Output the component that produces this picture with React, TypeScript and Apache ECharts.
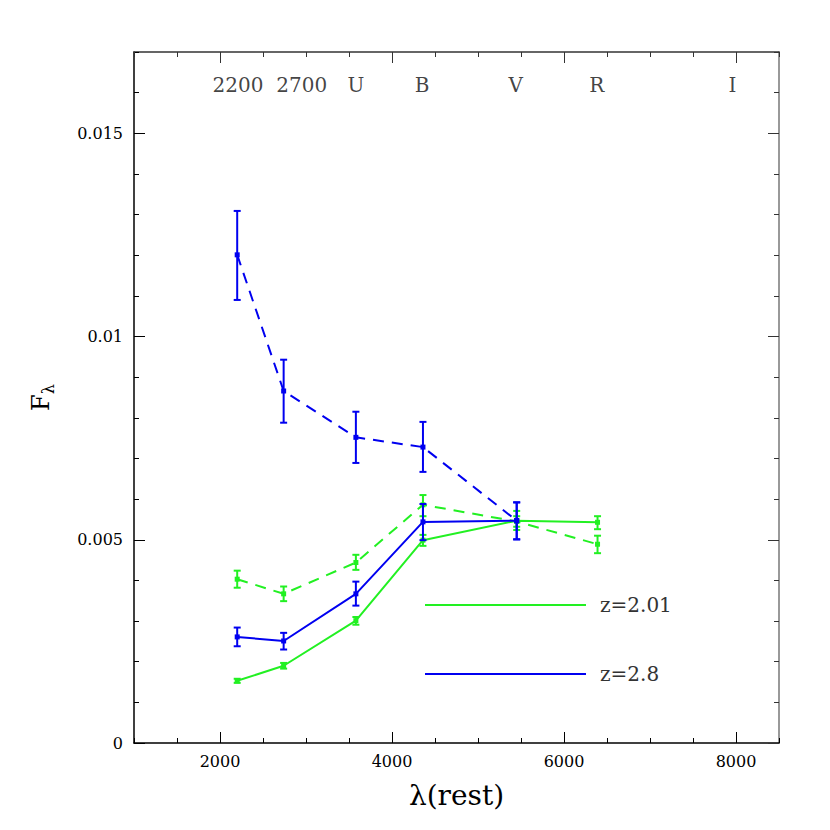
import React, { useEffect, useRef } from "react";
import * as echarts from "echarts";

// Wavelengths (rest, Angstrom)
const waveBlue = [2200, 2740, 3580, 4360, 5450];
const waveGreen = [2200, 2740, 3580, 4360, 5450, 6390];

// z=2.8 (blue) dashed
const blueDashedY = [0.01201, 0.00866, 0.00752, 0.00728, 0.00547];
const blueDashedLo = [0.0109, 0.00788, 0.00689, 0.00667, 0.00501];
const blueDashedHi = [0.01309, 0.00943, 0.00815, 0.0079, 0.00592];
// z=2.8 (blue) solid
const blueSolidY = [0.00261, 0.00251, 0.00367, 0.00544, 0.00547];
const blueSolidLo = [0.00238, 0.0023, 0.00338, 0.00499, 0.00501];
const blueSolidHi = [0.00284, 0.00271, 0.00397, 0.00588, 0.00592];
// z=2.01 (green) solid
const greenSolidY = [0.00153, 0.0019, 0.00301, 0.00499, 0.00547, 0.00543];
const greenSolidLo = [0.00148, 0.00183, 0.00291, 0.00485, 0.00532, 0.00526];
const greenSolidHi = [0.00158, 0.00197, 0.0031, 0.00512, 0.00558, 0.00558];
// z=2.01 (green) dashed
const greenDashedY = [0.00403, 0.00367, 0.00444, 0.00586, 0.00545, 0.00489];
const greenDashedLo = [0.00382, 0.00349, 0.00426, 0.00558, 0.00524, 0.00467];
const greenDashedHi = [0.00424, 0.00385, 0.00463, 0.0061, 0.00571, 0.0051];

// Band labels along the top
const bandLabels = ["2200", "2700", "U", "B", "V", "R", "I"];
const bandLabelX = [2210, 2950, 3580, 4350, 5440, 6380, 7960];
const bandLabelY = 0.0162;

// Axis ticks
const xMajorTicks = [2000, 4000, 6000, 8000];
const yMajorTicks = [0, 0.005, 0.01, 0.015];

const legendItems = ["z=2.01", "z=2.8"];

const BLUE = "#0000f0";
const GREEN = "#22f022";
const SERIF = "'DejaVu Serif', 'Liberation Serif', serif";

function errorSeries(xs: number[], lo: number[], hi: number[], color: string, z: number) {
  return {
    type: "custom",
    xAxisIndex: 0,
    yAxisIndex: 0,
    z,
    data: xs.map((x, i) => [x, lo[i], hi[i]]),
    renderItem: (params: any, api: any) => {
      const x = api.value(0);
      const pLo = api.coord([x, api.value(1)]);
      const pHi = api.coord([x, api.value(2)]);
      const w = 3.5;
      const style = { stroke: color, lineWidth: 2 };
      return {
        type: "group",
        children: [
          { type: "line", shape: { x1: pLo[0], y1: pLo[1], x2: pHi[0], y2: pHi[1] }, style },
          { type: "line", shape: { x1: pLo[0] - w, y1: pLo[1], x2: pLo[0] + w, y2: pLo[1] }, style },
          { type: "line", shape: { x1: pHi[0] - w, y1: pHi[1], x2: pHi[0] + w, y2: pHi[1] }, style },
        ],
      };
    },
  };
}

function lineSeries(xs: number[], ys: number[], color: string, dashed: boolean, z: number) {
  return {
    type: "line",
    xAxisIndex: 0,
    yAxisIndex: 0,
    z,
    data: xs.map((x, i) => [x, ys[i]]),
    symbol: "rect",
    symbolSize: 5,
    itemStyle: { color },
    lineStyle: { color, width: 2, type: dashed ? [11, 8] : "solid" },
  };
}

export default function App() {
  const ref = useRef<HTMLDivElement>(null);
  useEffect(() => {
    if (!ref.current) return;
    const chart = echarts.init(ref.current, null, { renderer: "svg" });
    const xBase = { type: "value", min: 1000, max: 8500, splitLine: { show: false } };
    const yBase = { type: "value", min: 0, max: 0.017, splitLine: { show: false } };

    const frameX = (position: string, color: string) => ({
      ...xBase,
      position,
      axisLine: { show: true, onZero: false, lineStyle: { color, width: 1.5 } },
      axisTick: { show: false },
      axisLabel: { show: false },
    });
    const minorX = (position: string, color: string) => ({
      ...xBase,
      position,
      interval: 500,
      axisLine: { show: false, onZero: false },
      axisTick: { show: true, inside: true, length: 5, lineStyle: { color, width: 1 } },
      axisLabel: { show: false },
    });
    const majorX = (position: string, color: string) => ({
      ...xBase,
      position,
      axisLine: { show: false, onZero: false },
      axisTick: { show: true, inside: true, length: 11, customValues: xMajorTicks, lineStyle: { color, width: 1 } },
      axisLabel: { show: false },
    });
    const frameY = (position: string, color: string) => ({
      ...yBase,
      position,
      axisLine: { show: true, onZero: false, lineStyle: { color, width: 1.5 } },
      axisTick: { show: false },
      axisLabel: { show: false },
    });
    const minorY = (position: string, color: string) => ({
      ...yBase,
      position,
      interval: 0.001,
      axisLine: { show: false, onZero: false },
      axisTick: { show: true, inside: true, length: 5, lineStyle: { color, width: 1 } },
      axisLabel: { show: false },
    });
    const majorY = (position: string, color: string) => ({
      ...yBase,
      position,
      axisLine: { show: false, onZero: false },
      axisTick: { show: true, inside: true, length: 11, customValues: yMajorTicks, lineStyle: { color, width: 1 } },
      axisLabel: { show: false },
    });

    const option: any = {
      animation: false,
      backgroundColor: "#ffffff",
      grid: { left: 134, right: 51, top: 52, bottom: 87, containLabel: false },
      xAxis: [
        {
          ...frameX("bottom", "#000"),
          axisLabel: {
            show: true,
            customValues: xMajorTicks,
            formatter: (v: number) => String(v),
            fontFamily: SERIF,
            fontSize: 16,
            color: "#000",
            margin: 10,
          },
          name: "λ(rest)",
          nameLocation: "middle",
          nameGap: 38,
          nameTextStyle: { fontFamily: SERIF, fontSize: 28, color: "#000" },
        },
        minorX("bottom", "#000"),
        majorX("bottom", "#000"),
        frameX("top", "#333"),
        minorX("top", "#333"),
        majorX("top", "#333"),
      ],
      yAxis: [
        {
          ...frameY("left", "#000"),
          axisLabel: {
            show: true,
            customValues: yMajorTicks,
            formatter: (v: number) => (v === 0 ? "0" : String(+v.toFixed(3))),
            fontFamily: SERIF,
            fontSize: 16,
            color: "#000",
            margin: 11,
          },
          name: "{f|F}{s|λ}",
          nameLocation: "middle",
          nameGap: 78,
          nameRotate: 90,
          nameTextStyle: {
            rich: {
              f: { fontFamily: SERIF, fontSize: 24, color: "#000" },
              s: { fontFamily: SERIF, fontSize: 16, color: "#000", padding: [14, 0, 0, 0] },
            },
          },
        },
        minorY("left", "#000"),
        majorY("left", "#000"),
        frameY("right", "#777"),
        minorY("right", "#333"),
        majorY("right", "#333"),
      ],
      series: [
        errorSeries(waveGreen, greenSolidLo, greenSolidHi, GREEN, 2),
        errorSeries(waveGreen, greenDashedLo, greenDashedHi, GREEN, 2),
        lineSeries(waveGreen, greenSolidY, GREEN, false, 3),
        lineSeries(waveGreen, greenDashedY, GREEN, true, 3),
        errorSeries(waveBlue, blueSolidLo, blueSolidHi, BLUE, 4),
        errorSeries(waveBlue, blueDashedLo, blueDashedHi, BLUE, 4),
        lineSeries(waveBlue, blueSolidY, BLUE, false, 5),
        lineSeries(waveBlue, blueDashedY, BLUE, true, 5),
        {
          type: "scatter",
          xAxisIndex: 0,
          yAxisIndex: 0,
          symbolSize: 0,
          silent: true,
          data: bandLabelX.map((x, i) => ({ value: [x, bandLabelY], name: bandLabels[i] })),
          label: {
            show: true,
            position: "inside",
            formatter: (p: any) => p.name,
            fontFamily: SERIF,
            fontSize: 20,
            color: "#111",
          },
        },
      ],
      graphic: [
        { type: "line", shape: { x1: 425, y1: 605, x2: 586, y2: 605 }, style: { stroke: GREEN, lineWidth: 2 } },
        { type: "line", shape: { x1: 425, y1: 674, x2: 586, y2: 674 }, style: { stroke: BLUE, lineWidth: 2 } },
        {
          type: "text",
          x: 600,
          y: 605,
          style: { text: legendItems[0], fontFamily: SERIF, fontSize: 20, fill: "#333", verticalAlign: "middle" },
        },
        {
          type: "text",
          x: 600,
          y: 674,
          style: { text: legendItems[1], fontFamily: SERIF, fontSize: 20, fill: "#333", verticalAlign: "middle" },
        },
      ],
    };
    chart.setOption(option);
    return () => chart.dispose();
  }, []);
  return (
    <div
      ref={ref}
      style={{ position: "fixed", left: 0, top: 0, width: 830, height: 830, background: "#fff" }}
    />
  );
}
